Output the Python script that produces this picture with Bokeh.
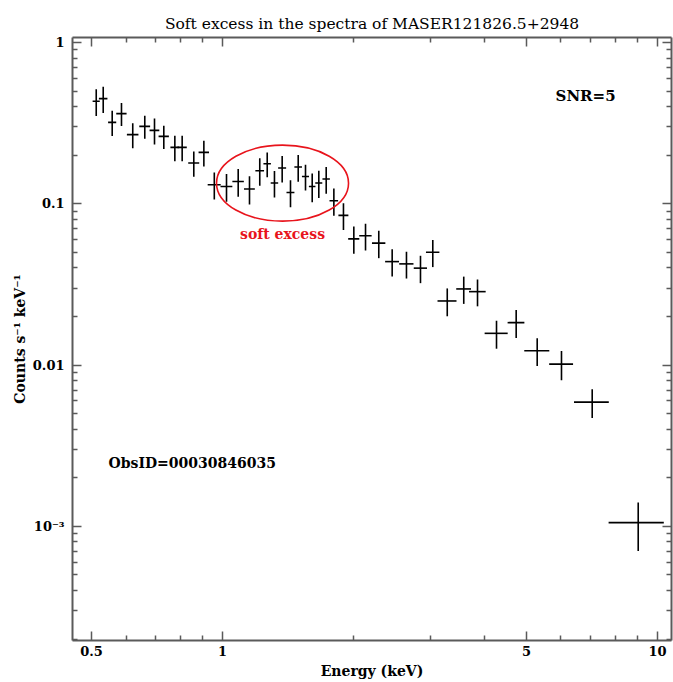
from bokeh.plotting import figure
from bokeh.models import (LogAxis, FixedTicker, CustomJSTickFormatter, Label,
                          ColumnDataSource, Range1d)
from bokeh.embed import file_html
from bokeh.resources import INLINE

# Grouped spectrum (SNR = 5 per bin): bin centre, bin half-width, rate, 1-sigma error
energy_kev = [0.5125, 0.5318, 0.5577, 0.5858, 0.6218, 0.6627, 0.6977, 0.7329,
              0.7770, 0.8077, 0.859, 0.906, 0.9575, 1.0214, 1.0866, 1.1536,
              1.218, 1.267, 1.3166, 1.3714, 1.4332, 1.4929, 1.5517, 1.6077,
              1.6649, 1.7313, 1.803, 1.897, 2.004, 2.132, 2.287, 2.455,
              2.648, 2.852, 3.044, 3.286, 3.586, 3.857, 4.265, 4.733,
              5.290, 6.016, 7.078, 9.03]
energy_halfwidth = [0.0097, 0.012, 0.012, 0.016, 0.019, 0.019, 0.018, 0.02,
                    0.018, 0.02, 0.025, 0.025, 0.033, 0.032, 0.033, 0.033,
                    0.028, 0.025, 0.026, 0.029, 0.030, 0.030, 0.029, 0.028,
                    0.031, 0.034, 0.041, 0.050, 0.059, 0.070, 0.081, 0.090,
                    0.10, 0.10, 0.108, 0.165, 0.14, 0.17, 0.26, 0.21,
                    0.35, 0.38, 0.65, 1.31]
rate = [0.4318, 0.449, 0.3198, 0.3622, 0.2683, 0.302, 0.2853, 0.2618,
        0.2237, 0.2237, 0.179, 0.2083, 0.1312, 0.1281, 0.1376, 0.1234,
        0.1603, 0.1772, 0.1345, 0.1666, 0.1176, 0.169, 0.1477, 0.1281,
        0.1345, 0.1423, 0.1044, 0.0848, 0.0606, 0.0633, 0.057, 0.0438,
        0.0424, 0.0399, 0.0501, 0.02497, 0.02965, 0.02853, 0.01573, 0.01832,
        0.01227, 0.01014, 0.005891, 0.001054]
rate_err = [0.082, 0.083, 0.057, 0.059, 0.0475, 0.049, 0.0525, 0.043,
            0.040, 0.040, 0.032, 0.038, 0.025, 0.025, 0.027, 0.0245,
            0.031, 0.031, 0.025, 0.031, 0.0225, 0.032, 0.027, 0.026,
            0.026, 0.027, 0.020, 0.016, 0.0116, 0.012, 0.011, 0.0084,
            0.008, 0.0077, 0.0096, 0.0049, 0.0057, 0.0054, 0.0031, 0.0036,
            0.0024, 0.0021, 0.0012, 0.00035]

x_major_ticks = [0.5, 1, 5, 10]
x_major_labels = ["0.5", "1", "5", "10"]
x_minor_ticks = [0.6, 0.7, 0.8, 0.9, 2, 3, 4, 6, 7, 8, 9]
y_major_ticks = [1e-3, 1e-2, 0.1, 1]
y_major_labels = ["10\u207b\u00b3", "0.01", "0.1", "1"]
y_minor_ticks = [m * d for d in (1e-4, 1e-3, 1e-2, 0.1) for m in range(2, 10)]

title_text = "Soft excess in the spectra of MASER121826.5+2948"
x_label = "Energy (keV)"
y_label = "Counts s\u207b\u00b9 keV\u207b\u00b9"

# annotation anchors (data coordinates)
excess_centre = (1.374, 0.1343)
excess_label_pos = (1.374, 0.0645)
snr_pos = (5.83, 0.4638)
obsid_pos = (0.547, 0.00246)

SERIF = "DejaVu Serif"
AXIS_GREY = "#5a5a5a"

src = ColumnDataSource(dict(
    x=energy_kev,
    x0=[e - h for e, h in zip(energy_kev, energy_halfwidth)],
    x1=[e + h for e, h in zip(energy_kev, energy_halfwidth)],
    y=rate,
    y0=[r - s for r, s in zip(rate, rate_err)],
    y1=[r + s for r, s in zip(rate, rate_err)],
))

p = figure(width=673, height=682, x_axis_type="log", y_axis_type="log",
           x_range=Range1d(0.452, 10.77), y_range=Range1d(1.96e-4, 1.074),
           output_backend="svg", toolbar_location=None,
           min_border_left=72, min_border_right=2, min_border_top=37,
           min_border_bottom=42)

p.title.text = title_text
p.title.align = "center"
p.title.vertical_align = "top"
p.title.text_font = SERIF
p.title.text_font_style = "normal"
p.title.text_font_size = "15.5px"
p.title.text_color = "black"
p.title.standoff = 6

p.grid.visible = False
p.outline_line_color = None
p.background_fill_color = "white"
p.border_fill_color = "white"

FMT_CODE = """
const i = tick_vals.findIndex(t => Math.abs(Math.log10(t) - Math.log10(tick)) < 1e-6);
return i >= 0 ? tick_text[i] : "";
"""
xfmt = CustomJSTickFormatter(args=dict(tick_vals=x_major_ticks, tick_text=x_major_labels),
                             code=FMT_CODE)
yfmt = CustomJSTickFormatter(args=dict(tick_vals=y_major_ticks, tick_text=y_major_labels),
                             code=FMT_CODE)
blank_fmt = CustomJSTickFormatter(code='return "";')


def style_axis(ax, show_labels):
    ax.axis_line_color = AXIS_GREY
    ax.axis_line_width = 2
    ax.major_tick_line_color = AXIS_GREY
    ax.minor_tick_line_color = AXIS_GREY
    ax.major_tick_line_width = 1.5
    ax.minor_tick_line_width = 1.5
    ax.major_tick_in = 9
    ax.major_tick_out = 0
    ax.minor_tick_in = 5
    ax.minor_tick_out = 0
    ax.major_label_text_font = SERIF
    ax.major_label_text_font_style = "bold"
    ax.major_label_text_font_size = "13px" if show_labels else "1px"
    ax.major_label_text_color = "black"
    ax.major_label_standoff = 5 if show_labels else 0
    ax.axis_label_text_font = SERIF
    ax.axis_label_text_font_style = "bold"
    ax.axis_label_text_font_size = "14px"
    ax.axis_label_text_color = "black"


xticker = FixedTicker(ticks=x_major_ticks, minor_ticks=x_minor_ticks)
yticker = FixedTicker(ticks=y_major_ticks, minor_ticks=y_minor_ticks)

xa = p.xaxis[0]
xa.ticker = xticker
xa.formatter = xfmt
xa.axis_label = x_label
style_axis(xa, True)
xa.axis_label_standoff = 4

ya = p.yaxis[0]
ya.ticker = yticker
ya.formatter = yfmt
ya.axis_label = y_label
style_axis(ya, True)
ya.major_label_standoff = 8
ya.axis_label_standoff = 2

# frame ticks on the top and right edges, without labels
top = LogAxis(ticker=xticker, formatter=blank_fmt)
style_axis(top, False)
p.add_layout(top, "above")
right = LogAxis(ticker=yticker, formatter=blank_fmt)
style_axis(right, False)
p.add_layout(right, "right")

# spectrum points: energy-bin and 1-sigma error crosses
p.segment(x0="x", y0="y0", x1="x", y1="y1", source=src,
          line_color="black", line_width=1.6)
p.segment(x0="x0", y0="y", x1="x1", y1="y", source=src,
          line_color="black", line_width=1.6)

# soft excess highlight
p.ellipse(x=[excess_centre[0]], y=[excess_centre[1]], width=132, height=76,
          width_units="screen", height_units="screen",
          fill_color=None, line_color="#e8141c", line_width=1.6)

p.add_layout(Label(x=excess_label_pos[0], y=excess_label_pos[1], text="soft excess",
                   text_font=SERIF, text_font_style="bold", text_font_size="14px",
                   text_color="#e8141c", text_align="center", text_baseline="middle"))
p.add_layout(Label(x=snr_pos[0], y=snr_pos[1], text="SNR=5",
                   text_font=SERIF, text_font_style="bold", text_font_size="15px",
                   text_color="black", text_align="left", text_baseline="middle"))
p.add_layout(Label(x=obsid_pos[0], y=obsid_pos[1], text="ObsID=00030846035",
                   text_font=SERIF, text_font_style="bold", text_font_size="14px",
                   text_color="black", text_align="left", text_baseline="middle"))

open("out.html", "w").write(file_html(p, INLINE))
